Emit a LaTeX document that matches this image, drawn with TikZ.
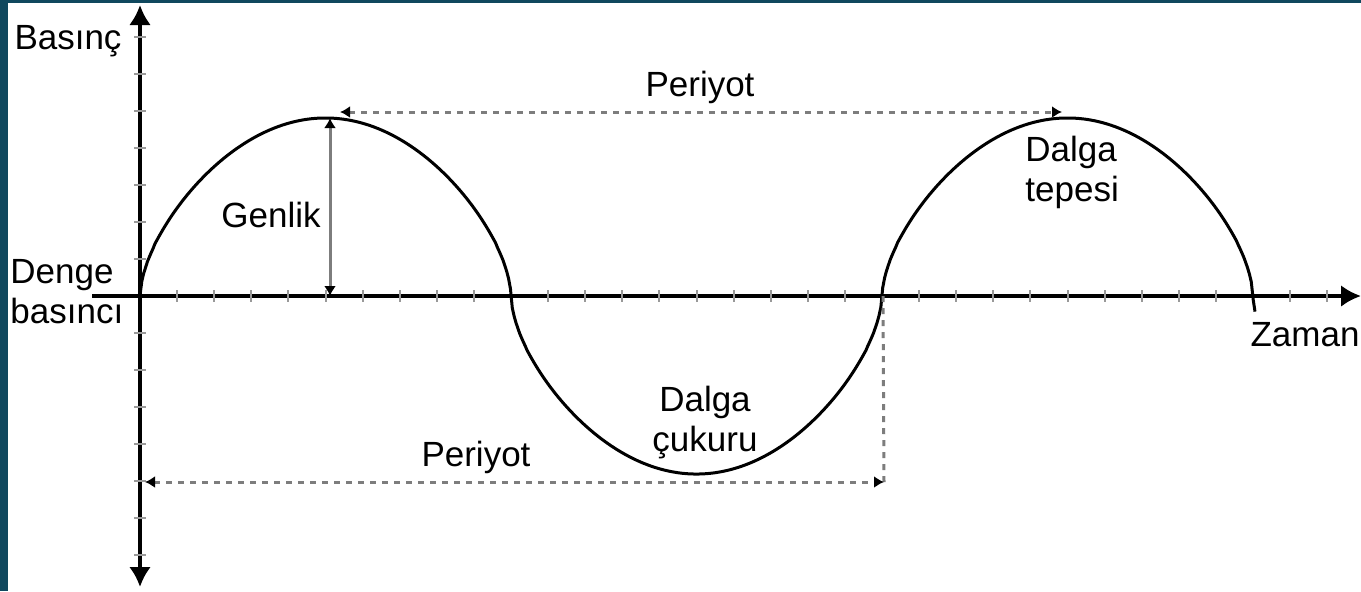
\documentclass[tikz,border=0pt]{standalone}
\usepackage{fontspec}
\setmainfont{Liberation Sans}
\usetikzlibrary{arrows.meta}
\definecolor{framecol}{RGB}{16,72,94}
\definecolor{dashgray}{RGB}{125,125,125}

\begin{document}
\begin{tikzpicture}[x=0.5pt, y=-0.5pt, >={Latex[length=10pt,width=11pt]},
    lbl/.style={font=\fontsize{17.5}{20}\selectfont, inner sep=0pt},
    periyot/.style={dashgray, line width=1.5pt, dash pattern=on 3pt off 3pt},
    small tip/.style={{Latex[black,length=5pt,width=6pt]}-{Latex[black,length=5pt,width=6pt]}},
    tickmark/.style={gray!80, line width=1pt}]

% Parameters (pixels of the original)
\def\ox{140}   % origin x
\def\oy{296}   % origin y (equilibrium)
\def\hp{371}   % half period
\def\amp{178}  % amplitude
\def\tk{37.1}  % tick distance

% Background and frame
\fill[white] (0,0) rectangle (1361,591);
\fill[framecol] (0,0) rectangle (8,591);
\fill[framecol] (0,0) rectangle (1361,3);
\useasboundingbox (0,0) rectangle (1361,591);

% Axes
\coordinate (o) at (\ox,\oy);
\coordinate (ytop) at (\ox,5);
\coordinate (ybot) at (\ox,587);
\coordinate (xstub) at (92,\oy);
\coordinate (xend) at (1361,\oy);
\draw[line width=2pt, <->] (ybot) -- (ytop);
\draw[line width=2pt, ->] (xstub) -- (xend);

% Ticks
\foreach \k in {1,...,32}
{
    \draw[tickmark] (\ox+\k*\tk,\oy-6) -- (\ox+\k*\tk,\oy+6);
}
\foreach \k in {-7,...,-1,1,2,...,7}
{
    \draw[tickmark] (\ox-6,\oy+\k*37) -- (\ox+6,\oy+\k*37);
}

% Pressure wave
\draw[line width=1.5pt, line join=round]
    plot[domain=0:1115, samples=600, variable=\t]
    ({\ox+\t},{\oy-\amp*(sin(\t/\hp*180) < 0 ? -1 : 1)*pow(abs(sin(\t/\hp*180))+0.0001,0.6)});

% Amplitude
\coordinate (crest1) at (330,118);
\coordinate (foot1) at (330,\oy);
\draw[dashgray, line width=1.5pt, small tip] (foot1) -- (crest1);

% Period (top)
\coordinate (pa) at (340,112);
\coordinate (pb) at (1062,112);
\draw[periyot, small tip] (pa) -- (pb);

% Period (bottom)
\coordinate (cross2) at (883,\oy);
\coordinate (pc) at (145,482);
\coordinate (pd) at (884,482);
\draw[periyot] (cross2) -- (pd);
\draw[periyot, small tip] (pc) -- (pd);

% Labels
\node[lbl] (basinc) at (68,41) {Basınç};
\node[lbl, align=left, anchor=west] (denge) at (10,292) {Denge\\basıncı};
\node[lbl] (genlik) at (271,215) {Genlik};
\node[lbl] (pertop) at (700,87) {Periyot};
\node[lbl, align=left, anchor=west] (tepe) at (1025,172) {Dalga\\tepesi};
\node[lbl, align=center] (cukur) at (705,423) {Dalga\\çukuru};
\node[lbl] (perbot) at (476,457) {Periyot};
\node[lbl] (zaman) at (1305,335) {Zaman};

\end{tikzpicture}
\end{document}
